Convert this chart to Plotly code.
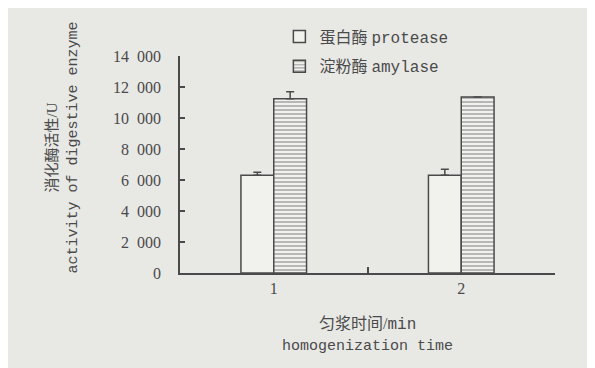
import plotly.graph_objects as go

# ---- data ----
categories = [1, 2]
category_labels = ["1", "2"]
protease = [6300, 6300]
protease_err = [200, 400]
amylase = [11250, 11350]
amylase_err = [450, 0]
ytick_vals = [0, 2000, 4000, 6000, 8000, 10000, 12000, 14000]
ytick_text = ["0", "2\u2002000", "4\u2002000", "6\u2002000", "8\u2002000",
              "10\u2002000", "12\u2002000", "14\u2002000"]
xminor_ticks = [1.5, 2.5]

MONO = "Liberation Mono, Courier New, monospace"
SERIF = "Liberation Serif, Noto Sans CJK SC, serif"
INK = "#4a4a4a"
BG = "#e8e8e5"
BARFILL = "#f1f1ee"

def mono(s):
    return f'<span style="font-family:{MONO}">{s}</span>'

fig = go.Figure()
fig.add_trace(go.Bar(
    x=categories, y=protease, name="蛋白酶 " + mono("protease"),
    legendgroup="a",
    marker=dict(color=BARFILL, line=dict(color=INK, width=1.5)),
    error_y=dict(type="data", array=protease_err, arrayminus=[0, 0], symmetric=False,
                 color=INK, thickness=1.5, width=4),
))
fig.add_trace(go.Bar(
    x=categories, y=amylase, name="淀粉酶 " + mono("amylase"),
    legendgroup="b",
    marker=dict(color=BARFILL, line=dict(color=INK, width=1.5),
                pattern=dict(shape="-", fgcolor=INK, bgcolor=BARFILL, size=4, solidity=0.35)),
    error_y=dict(type="data", array=amylase_err, arrayminus=[0, 0], symmetric=False,
                 color=INK, thickness=1.5, width=4),
))
# helper trace so the overlay axis with the between-group ticks is drawn
fig.add_trace(go.Scatter(x=xminor_ticks, y=[0, 0], xaxis="x2", mode="markers",
                         marker=dict(opacity=0), showlegend=False, hoverinfo="skip"))

fig.update_layout(
    width=595, height=368,
    margin=dict(l=172, r=48, t=42, b=103),
    paper_bgcolor=BG, plot_bgcolor=BG,
    font=dict(family=SERIF, size=16, color=INK),
    barmode="group", bargap=0.65, bargroupgap=0,
    showlegend=True,
    legend=dict(x=0.265, y=1.168, xanchor="left", yanchor="top",
                bgcolor="rgba(0,0,0,0)", traceorder="grouped", tracegroupgap=6,
                font=dict(family=SERIF, size=16, color=INK)),
    xaxis=dict(range=[0.5, 2.5], tickvals=categories, ticktext=category_labels,
               ticks="", showline=True, linecolor=INK, linewidth=1.5,
               showgrid=False, zeroline=False, ticklabelstandoff=0,
               tickfont=dict(size=16)),
    xaxis2=dict(range=[0.5, 2.5], overlaying="x", matches="x", tickvals=xminor_ticks,
                ticks="inside", ticklen=6, tickwidth=1.5, tickcolor=INK,
                showticklabels=False, showgrid=False, zeroline=False, side="bottom",
                showline=False),
    yaxis=dict(range=[0, 14000], tickvals=ytick_vals, ticktext=ytick_text,
               ticks="inside", ticklen=5, tickwidth=1.5, tickcolor=INK,
               showline=True, linecolor=INK, linewidth=1.5,
               showgrid=False, zeroline=False, ticklabelstandoff=14,
               tickfont=dict(size=16)),
    annotations=[
        dict(text="消化酶活性/U<br>" + mono("activity of digestive enzyme"),
             xref="paper", yref="paper", x=-0.367, y=0.58, textangle=-90,
             showarrow=False, font=dict(size=15, color=INK)),
        dict(text="匀浆时间/" + mono("min"), xref="paper", yref="paper",
             x=0.5, y=-0.29, showarrow=False, font=dict(size=16, color=INK)),
        dict(text=mono("homogenization time"), xref="paper", yref="paper",
             x=0.5, y=-0.385, showarrow=False, font=dict(size=15, color=INK)),
    ],
)

fig.write_html("out.html")
